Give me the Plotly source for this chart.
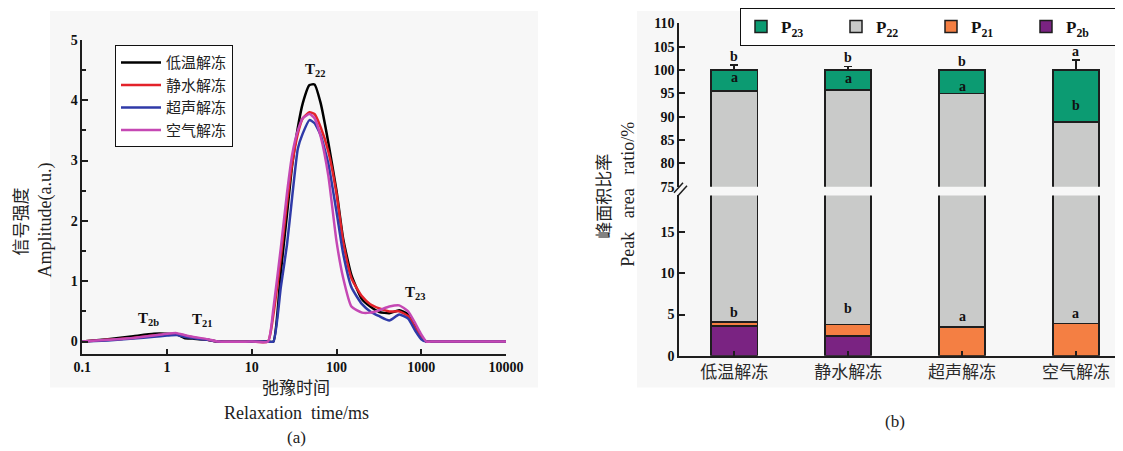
import math
import plotly.graph_objects as go

# page body adds an 8px margin: lay out in window pixels and compensate
OFF = 8
W, H = 1123 - OFF, 451 - OFF

# ---------------- panel (a): T2 relaxation spectra ----------------
relax_time_ms = [0.1, 0.2, 0.4, 0.7, 1.0, 1.3, 1.6, 2.0, 3.0, 4.0,
                 10, 15.5, 18, 22, 26, 30, 35, 40, 48, 55,
                 65, 80, 100, 120, 150, 200, 250, 320, 420, 550,
                 700, 850, 1000, 1150, 1300, 3000, 10000]
amp_low_temp = [0.0, 0.04, 0.09, 0.13, 0.13, 0.12, 0.06, 0.05, 0.03, 0.0,
                0.0, 0.0, 0.0, 1.15, 2.1, 2.93, 3.55, 3.95, 4.25, 4.26,
                3.95, 3.3, 2.5, 1.7, 1.1, 0.7, 0.58, 0.49, 0.47, 0.52,
                0.45, 0.25, 0.08, 0.0, 0.0, 0.0, 0.0]
amp_still_water = [0.0, 0.03, 0.06, 0.1, 0.12, 0.13, 0.1, 0.07, 0.03, 0.0,
                   0.0, 0.0, 0.45, 1.4, 2.3, 2.95, 3.45, 3.7, 3.8, 3.77,
                   3.55, 3.15, 2.45, 1.65, 1.05, 0.75, 0.62, 0.55, 0.5, 0.5,
                   0.42, 0.22, 0.06, 0.0, 0.0, 0.0, 0.0]
amp_ultrasound = [0.0, 0.02, 0.05, 0.08, 0.1, 0.11, 0.08, 0.06, 0.03, 0.0,
                  0.0, 0.0, 0.0, 0.9, 1.6, 2.4, 3.2, 3.45, 3.67, 3.62,
                  3.42, 2.95, 2.15, 1.45, 0.9, 0.62, 0.5, 0.42, 0.35, 0.45,
                  0.38, 0.18, 0.04, 0.0, 0.0, 0.0, 0.0]
amp_air = [0.0, 0.03, 0.06, 0.1, 0.13, 0.14, 0.11, 0.08, 0.04, 0.0,
           0.0, 0.0, 0.55, 1.55, 2.45, 3.1, 3.5, 3.7, 3.77, 3.7,
           3.4, 2.75, 1.66, 1.05, 0.58, 0.48, 0.48, 0.52, 0.58, 0.6,
           0.5, 0.3, 0.12, 0.0, 0.0, 0.0, 0.0]
series_names_a = ["低温解冻", "静水解冻", "超声解冻", "空气解冻"]
x_tick_vals = [0.1, 1, 10, 100, 1000, 10000]
x_tick_text = ["0.1", "1", "10", "100", "1000", "10000"]
peak_labels = ["T<sub>2b</sub>", "T<sub>21</sub>", "T<sub>22</sub>", "T<sub>23</sub>"]
peak_label_x = [0.6, 2.65, 57, 850]
peak_label_y = [0.38, 0.35, 4.5, 0.8]

# ---------------- panel (b): peak area ratios ----------------
methods = ["低温解冻", "静水解冻", "超声解冻", "空气解冻"]
p2b = [3.6, 2.4, 0.0, 0.0]
p21 = [0.5, 1.4, 3.5, 3.9]
p22 = [91.4, 91.9, 91.5, 84.95]
p23 = [4.5, 4.3, 5.0, 11.15]
err_p2b = [0.3, 1.0, 0.0, 0.0]
err_p21 = [0.15, 0.9, 0.2, 0.15]
err_p22 = [1.5, 1.2, 0.2, 2.2]
err_p23 = [1.1, 0.8, 0.0, 2.2]
letters_p23 = ["b", "b", "b", "a"]
letters_p22 = ["a", "a", "a", "b"]
letters_low = ["b", "b", "a", "a"]
upper_ticks = [75, 80, 85, 90, 95, 100, 105, 110]
lower_ticks = [0, 5, 10, 15]

SERIF = "Liberation Serif, Noto Sans CJK SC"
CJK = "Noto Sans CJK SC, Liberation Serif"
AX = "#1e1e1e"


def px(x):
    return (x - OFF) / W


def py(y):
    return 1 - (y - OFF) / H


fig = go.Figure()

colors_a = ["#000000", "#e3222a", "#2f3aa8", "#c548b4"]
for name, ys, c in zip(series_names_a,
                       [amp_low_temp, amp_still_water, amp_ultrasound, amp_air],
                       colors_a):
    fig.add_trace(go.Scatter(
        x=relax_time_ms, y=ys, name=name, mode="lines",
        line=dict(color=c, width=2.5, shape="spline", smoothing=0.5),
        xaxis="x", yaxis="y", legend="legend"))

seg_names = ["P<sub>2b</sub>", "P<sub>21</sub>", "P<sub>22</sub>", "P<sub>23</sub>"]
seg_vals = [p2b, p21, p22, p23]
seg_errs = [err_p2b, err_p21, err_p22, err_p23]
seg_colors = ["#7a2382", "#f47f43", "#c9cac9", "#0c9b72"]
for xa, ya, show in [("x2", "y2", True), ("x3", "y3", False)]:
    for nm, v, e, c in zip(seg_names, seg_vals, seg_errs, seg_colors):
        fig.add_trace(go.Bar(
            x=methods, y=v, name=nm, width=0.405,
            marker=dict(color=c, line=dict(color=AX, width=1.5)),
            error_y=dict(type="data", array=e, symmetric=False,
                         arrayminus=[0] * len(e), color=AX,
                         thickness=1.5, width=4),
            xaxis=xa, yaxis=ya, legend="legend2",
            showlegend=show, legendgroup=nm))

tickfont = dict(family=SERIF, size=14, color="#111", weight="bold")
common_axis = dict(showline=True, linecolor=AX, linewidth=1.5, showgrid=False,
                   zeroline=False, ticks="inside", tickcolor=AX, tickwidth=1.5,
                   mirror=False)

fig.update_layout(
    width=W, height=H, margin=dict(l=0, r=0, t=0, b=0),
    template="none", paper_bgcolor="white", plot_bgcolor="rgba(0,0,0,0)",
    barmode="stack", showlegend=True,
    xaxis=dict(common_axis, type="log", domain=[px(82.3), px(506)],
               range=[-1, 4], tickvals=x_tick_vals, ticktext=x_tick_text,
               ticklen=5, tickfont=tickfont, anchor="y"),
    yaxis=dict(common_axis, domain=[py(353), py(37)], range=[-0.2, 5],
               tick0=0, dtick=1, ticklen=6, tickfont=tickfont, anchor="x",
               minor=dict(dtick=0.5, tick0=0, ticks="inside", ticklen=4,
                          tickcolor=AX, tickwidth=1.5)),
    xaxis2=dict(common_axis, domain=[px(679), 1.0], range=[-0.485, 3.485 - OFF / 111.9],
                ticklen=5, anchor="y2",
                tickfont=dict(family=CJK, size=17, color="#2a2a2a")),
    yaxis2=dict(common_axis, domain=[py(355), py(193.7)], range=[0, 19.5],
                tickvals=lower_ticks, ticklen=6, tickfont=tickfont, anchor="x2"),
    xaxis3=dict(matches="x2", domain=[px(679), 1.0], anchor="y3", visible=False),
    yaxis3=dict(common_axis, domain=[py(185), py(20.5)], range=[75, 110],
                tickvals=upper_ticks, ticklen=6, tickfont=tickfont, anchor="x3"),
    legend=dict(x=px(115), y=py(42.5), xanchor="left", yanchor="top",
                bgcolor="white", bordercolor="#111", borderwidth=1,
                font=dict(family=CJK, size=15, color="#222"),
                tracegroupgap=0, itemwidth=40),
    legend2=dict(orientation="h", x=px(740), y=py(4.7), xanchor="left",
                 yanchor="top", bgcolor="white", bordercolor="#111",
                 borderwidth=1, traceorder="reversed",
                 font=dict(family=SERIF, size=17, color="#111", weight="bold"),
                 entrywidth=50),
)

shapes = [
    dict(type="rect", xref="paper", yref="paper", x0=px(50), x1=px(538),
         y0=py(387), y1=py(8), fillcolor="#f7f7f7", line_width=0, layer="below"),
    dict(type="rect", xref="paper", yref="paper", x0=px(637), x1=1.0,
         y0=py(387), y1=py(8), fillcolor="#f7f7f7", line_width=0, layer="below"),
    dict(type="line", xref="paper", yref="paper", x0=px(674), y0=py(191),
         x1=px(683), y1=py(181), line=dict(color=AX, width=1.5)),
    dict(type="line", xref="paper", yref="paper", x0=px(678), y0=py(194),
         x1=px(687), y1=py(184), line=dict(color=AX, width=1.5)),
]
fig.update_layout(shapes=shapes)

ann = []
for t, xv, yv in zip(peak_labels, peak_label_x, peak_label_y):
    ann.append(dict(text=t, x=math.log10(xv), y=yv, xref="x", yref="y",
                    showarrow=False, yanchor="middle",
                    font=dict(family=SERIF, size=15, color="#111", weight="bold")))

letter_font = dict(family=SERIF, size=14, color="#111", weight="bold")
for i in range(len(methods)):
    base21 = p2b[i] + p21[i]
    top22 = base21 + p22[i]
    top23 = top22 + p23[i]
    low_y = max(p2b[i] + err_p2b[i], base21 + err_p21[i])
    ann.append(dict(text=letters_low[i], x=i, y=low_y, xref="x2", yref="y2",
                    showarrow=False, yanchor="bottom", yshift=-1, font=letter_font))
    ann.append(dict(text=letters_p22[i], x=i, y=top22 + err_p22[i], xref="x3",
                    yref="y3", showarrow=False, yanchor="bottom", yshift=-3,
                    font=letter_font))
    ann.append(dict(text=letters_p23[i], x=i, y=top23 + err_p23[i], xref="x3",
                    yref="y3", showarrow=False, yanchor="bottom", yshift=-1,
                    font=letter_font))

text_items = [
    ("信号强度", 20, 220, CJK, 17, -90),
    ("Amplitude(a.u.)", 46, 219, SERIF, 18, -90),
    ("弛豫时间", 296, 386, CJK, 17, 0),
    ("Relaxation\u00a0\u00a0time/ms", 296, 413, SERIF, 18, 0),
    ("(a)", 296, 437, SERIF, 17, 0),
    ("峰面积比率", 603, 195, CJK, 17, -90),
    ("Peak\u00a0\u00a0\u00a0area\u00a0\u00a0\u00a0ratio/%", 628, 193, SERIF, 18, -90),
    ("(b)", 895, 421, SERIF, 17, 0),
]
for t, x, y, fam, size, ang in text_items:
    ann.append(dict(text=t, x=px(x), y=py(y), xref="paper", yref="paper",
                    showarrow=False, xanchor="center", yanchor="middle",
                    textangle=ang, font=dict(family=fam, size=size, color="#222")))
fig.update_layout(annotations=ann)

fig.write_html("out.html")
